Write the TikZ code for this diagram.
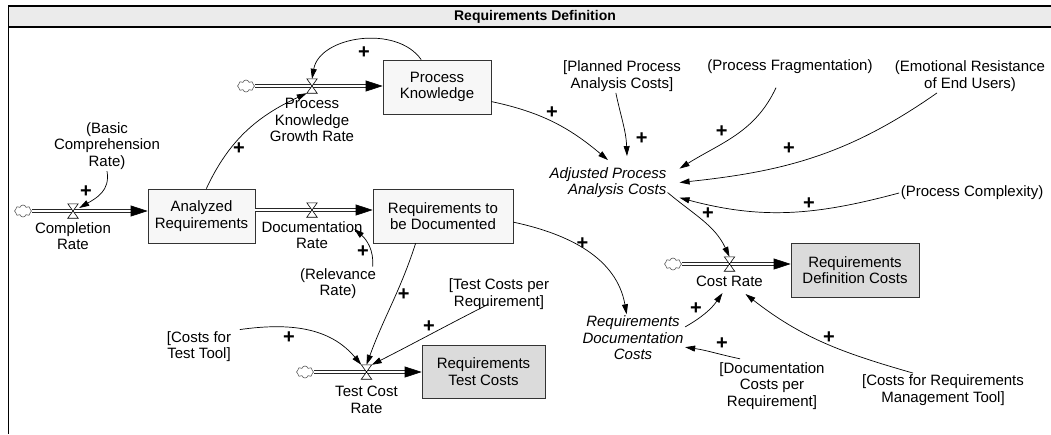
\documentclass[tikz,border=0pt]{standalone}
\usepackage{fontspec}
\setmainfont{Liberation Sans}
\usetikzlibrary{arrows.meta,shapes.symbols,calc}
\newcommand\drawvalve[1]{\draw[valveline] (#1.north west) -- (#1.north east) -- (#1.south west) -- (#1.south east) -- cycle;}
\tikzset{
  every node/.style={font=\fontsize{15}{16.5}\selectfont, inner sep=1.5pt},
  stock/.style={draw=black!80, line width=0.7pt, fill=black!3, align=center, inner sep=0pt},
  stockgray/.style={stock, fill=black!14},
  pipe/.style={double=white, double distance=2.2pt, line width=0.7pt, draw=black!85},
  flowtip/.style={-{Triangle[length=17pt,width=11pt]}, line width=0.7pt},
  link/.style={-{Triangle[length=10pt,width=6pt]}, line width=0.7pt},
  plus/.style={font=\fontsize{20}{20}\selectfont\bfseries, inner sep=0pt},
  aux/.style={align=center},
  cloudy/.style={cloud, cloud puffs=8, aspect=1.4, draw=black!65, line width=0.6pt, minimum width=17pt, minimum height=12pt, inner sep=0pt},
  valve/.style={minimum width=10pt, minimum height=14pt, inner sep=0pt},
  valveline/.style={draw=black, fill=white, line width=0.6pt},
}
\begin{document}
\begin{tikzpicture}[x=1pt,y=-1pt]
\useasboundingbox (0,0) rectangle (1051,434);
% frame
\fill[black!8] (8,6) rectangle (1051,27);
\draw[line width=2pt] (8,6) -- (1051,6);
\draw[line width=2pt] (8,27) -- (1051,27);
\draw[line width=1pt] (8,5) -- (8,434);
\node[font=\fontsize{14}{14}\selectfont\bfseries] (title) at (535,17) {Requirements Definition};

% stocks
\node[stock, minimum width=108pt, minimum height=54pt] (pk) at (437,87) {Process\\Knowledge};
\node[stock, minimum width=107pt, minimum height=54pt] (ar) at (201.5,216) {Analyzed\\Requirements};
\node[stock, minimum width=140pt, minimum height=54pt] (rtbd) at (443,216) {Requirements to\\be Documented};
\node[stockgray, minimum width=123pt, minimum height=53pt] (rtc) at (483.5,371.5) {Requirements\\Test Costs};
\node[stockgray, minimum width=128pt, minimum height=54pt] (rdefc) at (855,270) {Requirements\\Definition Costs};

% clouds
\node[cloudy] (cC) at (23,211) {};
\node[cloudy] (cP) at (246,86) {};
\node[cloudy] (cT) at (305,372) {};
\node[cloudy] (cR) at (673,264) {};

% valves (positions)
\node[valve] (vC) at (73,211) {};
\node[valve] (vD) at (312,210) {};
\node[valve] (vP) at (312,86) {};
\node[valve] (vT) at (366.5,372) {};
\node[valve] (vR) at (729.5,264) {};

% pipes
\draw[pipe, shorten >=12pt] (cC.east |- vC) -- (ar.west |- vC);
\draw[flowtip] ($(ar.west |- vC)+(-17,0)$) -- (ar.west |- vC);
\draw[pipe, shorten >=12pt] (ar.east |- vD) -- (rtbd.west |- vD);
\draw[flowtip] ($(rtbd.west |- vD)+(-17,0)$) -- (rtbd.west |- vD);
\draw[pipe, shorten >=12pt] (cP.east |- vP) -- (pk.west |- vP);
\draw[flowtip] ($(pk.west |- vP)+(-17,0)$) -- (pk.west |- vP);
\draw[pipe, shorten >=12pt] (cT.east |- vT) -- (rtc.west |- vT);
\draw[flowtip] ($(rtc.west |- vT)+(-17,0)$) -- (rtc.west |- vT);
\draw[pipe, shorten >=12pt] (cR.east |- vR) -- (rdefc.west |- vR);
\draw[flowtip] ($(rdefc.west |- vR)+(-17,0)$) -- (rdefc.west |- vR);

\drawvalve{vC}
\drawvalve{vD}
\drawvalve{vP}
\drawvalve{vT}
\drawvalve{vR}

% flow labels
\node[aux] (lC) at (73,236) {Completion\\Rate};
\node[aux] (lD) at (312,235) {Documentation\\Rate};
\node[aux] (lP) at (312,120) {Process\\Knowledge\\Growth Rate};
\node[aux] (lT) at (366.5,400) {Test Cost\\Rate};
\node[aux] (lR) at (729.5,281) {Cost Rate};

% auxiliaries
\node[aux] (basic) at (107,146) {(Basic\\Comprehension\\Rate)};
\node[aux] (planned) at (622,76) {[Planned Process\\Analysis Costs]};
\node[aux] (frag) at (790,67) {(Process Fragmentation)};
\node[aux] (emot) at (970,76) {(Emotional Resistance\\of End Users)};
\node[align=right, font=\fontsize{15}{16.5}\selectfont\itshape, inner xsep=13pt, inner ysep=7pt] (apac) at (608,182.5) {Adjusted Process\\Analysis Costs};
\node[aux, anchor=east] (complex) at (1045,193) {(Process Complexity)};
\node[aux, font=\fontsize{15}{16.5}\selectfont\itshape] (rdc) at (633,338) {Requirements\\Documentation\\Costs};
\node[aux] (dcpr) at (772,386) {[Documentation\\Costs per\\Requirement]};
\node[aux] (crmt) at (943,390) {[Costs for Requirements\\Management Tool]};
\node[aux] (relev) at (338,283.5) {(Relevance\\Rate)};
\node[aux] (tcpr) at (499,294) {[Test Costs per\\Requirement]};
\node[aux] (cftt) at (199,346.5) {[Costs for\\Test Tool]};

% connectors
\draw[link] (basic.south) to[out=-80,in=30,looseness=1.1] ($(vC.east)+(1,-3)$);
\draw[link] (pk.120) to[out=125,in=80] (vP.north);
\draw[link] (ar.80) to[out=65,in=205] (vP.south west);
\draw[link] (pk.-15) to[out=-12,in=140] (apac.north);
\draw[link] (planned.250) to[out=-78,in=92] ($(apac.north)+(19,-4)$);
\draw[link] ($(frag.south)+(-14,12)$) to[out=-115,in=32] (apac.11);
\draw[link] ($(emot.south)+(-33,0)$) to[out=-145,in=6] (apac.east);
\draw[link] (complex.west) to[out=-165,in=-15] (apac.-12);
\draw[link] ($(apac.east)+(-12,10)$) to[out=-40,in=115] (vR.north);
\draw[link] (rtbd.-5) to[out=-12,in=100] (rdc.105);
\draw[link] (rdc.12) to[out=30,in=-125] ($(lR.south)+(-7,5)$);
\draw[link] ($(dcpr.north)+(-32,-2)$) to[out=168,in=-8] (rdc.-10);
\draw[link] ($(crmt.north)+(-30,0)$) to[out=164,in=-38] ($(lR.south)+(16,6)$);
\draw[link] ($(relev.north east)+(-5,0)$) to[out=85,in=-40] ($(lD.east)+(-10,-6)$);
\draw[link] (rtbd.225) to[out=-108,in=70] (vT.north);
\draw[link] ($(tcpr.south)+(-12,-6)$) to[out=-153,in=27] (vT.north east);
\draw[link] ($(cftt.north east)+(7,0)$) to[out=8,in=130] (vT.north west);

% polarities
\node[plus] (p1) at (86,192) {+};
\node[plus] (p2) at (364,53) {+};
\node[plus] (p3) at (239,149) {+};
\node[plus] (p4) at (552,113) {+};
\node[plus] (p5) at (641.6,138.5) {+};
\node[plus] (p6) at (721.7,131.8) {+};
\node[plus] (p7) at (789,148.6) {+};
\node[plus] (p8) at (809,204) {+};
\node[plus] (p9) at (708,213.5) {+};
\node[plus] (p10) at (582.5,244) {+};
\node[plus] (p11) at (696,309) {+};
\node[plus] (p12) at (722,343.6) {+};
\node[plus] (p13) at (829,338) {+};
\node[plus] (p14) at (363,252) {+};
\node[plus] (p15) at (403.7,294.6) {+};
\node[plus] (p16) at (429,326.7) {+};
\node[plus] (p17) at (289,337.8) {+};
\end{tikzpicture}
\end{document}
